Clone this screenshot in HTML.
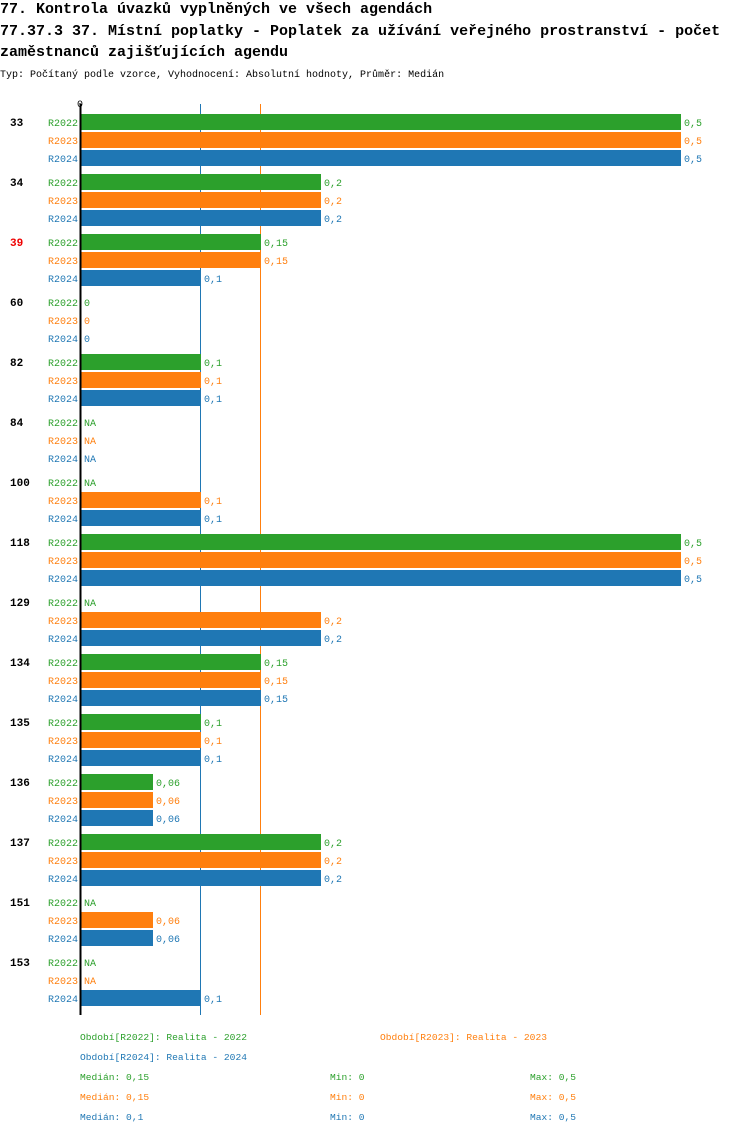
<!DOCTYPE html>
<html><head><meta charset="utf-8"><style>
body{margin:0;background:#fff;width:750px;height:1134px;overflow:hidden}
svg{display:block;font-family:"Liberation Mono",monospace}
</style></head><body>
<svg id="c" width="750" height="1134">
<text x="0" y="13" font-size="15" font-weight="bold">77. Kontrola úvazků vyplněných ve všech agendách</text>
<text x="0" y="35" font-size="15" font-weight="bold">77.37.3 37. Místní poplatky - Poplatek za užívání veřejného prostranství - počet</text>
<text x="0" y="56" font-size="15" font-weight="bold">zaměstnanců zajišťujících agendu</text>
<text x="0" y="77" font-size="10">Typ: Počítaný podle vzorce, Vyhodnocení: Absolutní hodnoty, Průměr: Medián</text>
<text x="80" y="107" font-size="10" text-anchor="middle">0</text>
<g id="bars"></g>
<g font-size="9.6">
<text x="80" y="1040" fill="#2ca02c">Období[R2022]: Realita - 2022</text>
<text x="380" y="1040" fill="#ff7f0e">Období[R2023]: Realita - 2023</text>
<text x="80" y="1060" fill="#1f77b4">Období[R2024]: Realita - 2024</text>
<g id="stats"></g>
</g>
</svg>
<script>
const categories=["33","34","39","60","82","84","100","118","129","134","135","136","137","151","153"];
const highlighted=["39"];
const seriesNames=["R2022","R2023","R2024"];
const r2022=[0.5,0.2,0.15,0,0.1,null,null,0.5,null,0.15,0.1,0.06,0.2,null,null];
const r2023=[0.5,0.2,0.15,0,0.1,null,0.1,0.5,0.2,0.15,0.1,0.06,0.2,0.06,null];
const r2024=[0.5,0.2,0.1,0,0.1,null,0.1,0.5,0.2,0.15,0.1,0.06,0.2,0.06,0.1];
const medians=[0.15,0.15,0.1];
const mins=[0,0,0];
const maxs=[0.5,0.5,0.5];
const colors=["#2ca02c","#ff7f0e","#1f77b4"];
const NS="http://www.w3.org/2000/svg";
const x=v=>81+v*1200;
const rowY=(g,s)=>122+g*60+s*18;
const fmt=v=>String(v).replace('.',',');
function mk(tag,attrs,parent,txt){const e=document.createElementNS(NS,tag);for(const k in attrs)e.setAttribute(k,attrs[k]);if(txt!==undefined)e.textContent=txt;parent.appendChild(e);return e;}
const g=document.getElementById('bars');
const series=[r2022,r2023,r2024];
[0,2,1].forEach(j=>{
  const ln=mk('line',{x1:x(medians[j])-0.5,x2:x(medians[j])-0.5,y1:104,y2:1015,stroke:colors[j],'stroke-width':1},g);
  
  
});
categories.forEach((c,i)=>{
  const t=mk('text',{x:10,y:rowY(i,0)+4,'font-size':11,'font-weight':'bold',fill:highlighted.includes(c)?'#e00':'#000'},g,c);
  
  
  series.forEach((s,j)=>{
    const y=rowY(i,j);
    const l=mk('text',{x:78,y:y+4,'font-size':10,'text-anchor':'end',fill:colors[j]},g,seriesNames[j]);
    
    
    const v=s[i];
    if(v===null){
      const n=mk('text',{x:84,y:y+4,'font-size':10,fill:colors[j]},g,'NA');
      
      
    }else{
      if(v>0){
        const r=mk('rect',{x:81,y:y-8,width:x(v)-81,height:16,fill:colors[j]},g);
        
        
      }
      const vl=mk('text',{x:x(v)+3,y:y+4,'font-size':10,fill:colors[j]},g,fmt(v));
      
      
    }
  });
});
const ax=mk('line',{x1:80.5,x2:80.5,y1:104,y2:1015,stroke:'#000','stroke-width':2},g);


const st=document.getElementById('stats');
seriesNames.forEach((n,j)=>{
  const y=1080+j*20;
  const a=mk('text',{x:80,y:y,fill:colors[j]},st,'Medián: '+fmt(medians[j]));
  
  
  const b=mk('text',{x:330,y:y,fill:colors[j]},st,'Min: '+fmt(mins[j]));
  
  
  const d=mk('text',{x:530,y:y,fill:colors[j]},st,'Max: '+fmt(maxs[j]));
  
  
});
</script>
</body></html>
